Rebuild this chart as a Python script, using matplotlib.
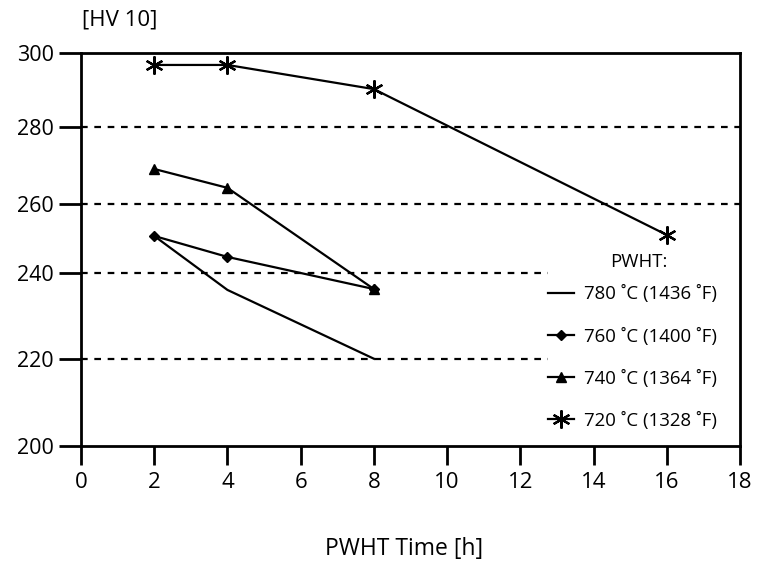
import matplotlib
matplotlib.use("Agg")
import matplotlib.pyplot as plt
import numpy as np

plt.rcParams["font.family"] = ["Open Sans", "DejaVu Sans"]

# ---------------------------------------------------------------------------
# Data (hardness HV10 vs PWHT time)
# ---------------------------------------------------------------------------
time_780 = [2, 4, 8]
hv_780 = [250.7, 236.0, 220.0]

time_760 = [2, 4, 8]
hv_760 = [250.7, 244.6, 236.2]

time_740 = [2, 4, 8]
hv_740 = [269.1, 264.2, 236.2]

time_720 = [2, 4, 8, 16]
hv_720 = [296.7, 296.7, 290.2, 251.0]

labels = ["780 ˚C (1436 ˚F)", "760 ˚C (1400 ˚F)",
          "740 ˚C (1364 ˚F)", "720 ˚C (1328 ˚F)"]

y_ticks = [200, 220, 240, 260, 280, 300]
x_ticks = [0, 2, 4, 6, 8, 10, 12, 14, 16, 18]

# original figure has uneven spacing between the y gridlines -> piecewise scale
knot_vals = np.array([100, 200, 220, 240, 260, 280, 300, 400])
knot_pos = np.array([-435.0, 0, 87, 173, 241.7, 318.7, 393, 764.5])


def fwd(v):
    return np.interp(v, knot_vals, knot_pos)


def inv(p):
    return np.interp(p, knot_pos, knot_vals)


fig = plt.figure(figsize=(7.61, 5.63), dpi=100)
ax = fig.add_axes([0.1064, 0.2083, 0.866, 0.6981])
ax.set_yscale("function", functions=(fwd, inv))

# dashed reference lines (lower two stop short of the legend)
ax.hlines([280, 260], 0, 18, colors="black", linestyles=(0, (3, 3)), linewidth=1.6)
ax.hlines([240, 220], 0, 12.75, colors="black", linestyles=(0, (3, 3)), linewidth=1.6)

lw = 1.6
h1, = ax.plot(time_780, hv_780, color="black", lw=lw)
h2, = ax.plot(time_760, hv_760, color="black", lw=lw, marker="D", ms=5)
h3, = ax.plot(time_740, hv_740, color="black", lw=lw, marker="^", ms=7)
h4, = ax.plot(time_720, hv_720, color="black", lw=lw, marker=(6, 2, 0), ms=13, mew=1.6)

ax.set_xlim(0, 18)
ax.set_ylim(200, 300)
ax.set_xticks(x_ticks)
ax.set_yticks(y_ticks)
ax.set_yticklabels([str(t) for t in y_ticks])
ax.minorticks_off()
ax.tick_params(axis="both", direction="out", width=2, color="black")
ax.tick_params(axis="y", length=16, labelsize=15.5)
ax.tick_params(axis="x", length=14, labelsize=16, pad=5)
for s in ax.spines.values():
    s.set_linewidth(2)

fig.text(0.157, 0.964, "[HV 10]", fontsize=16, ha="center", va="center")
fig.text(0.531, 0.024, "PWHT Time [h]", fontsize=16.5, ha="center", va="center")

# legend title placed by hand: the original has a tight gap under it
fig.text(0.839, 1 - 262 / 563, "PWHT:", fontsize=13.4, ha="center", va="center")
leg = ax.legend([h1, h2, h3, h4], labels, frameon=False,
                loc="upper left", bbox_to_anchor=(0.698, 0.523),
                bbox_transform=fig.transFigure, fontsize=13.4,
                handlelength=1.4, labelspacing=1.3, handletextpad=0.55)

fig.savefig("out.png", dpi=100)
